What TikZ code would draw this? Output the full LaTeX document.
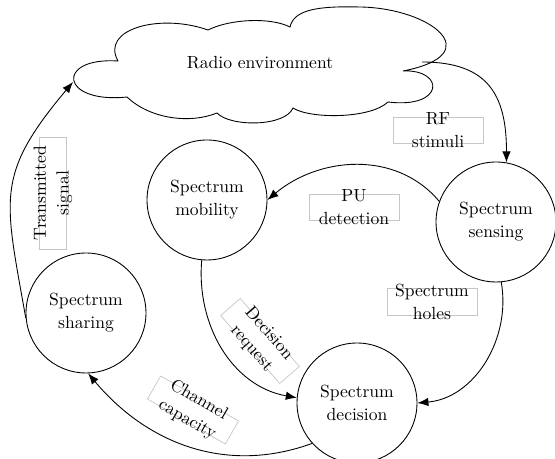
\documentclass[tikz,border=0pt]{standalone}
\usepackage{tikz}
\usetikzlibrary{arrows.meta}

\begin{document}
\begin{tikzpicture}[x=0.02cm,y=0.02cm,
  every node/.style={font=\fontsize{10}{13}\selectfont},
  stage/.style={circle,draw,line width=0.5pt,minimum size=2.4cm,align=center,inner sep=0pt},
  tag/.style={draw=gray!45,align=center,minimum width=1.8cm,inner xsep=2pt,inner ysep=-2.5pt},
  flow/.style={-{Latex[length=2.2mm,width=1.7mm]},line width=0.5pt}]
\useasboundingbox (0,0) rectangle (555,459);
% environment cloud, lobe by lobe
\draw[line width=0.5pt] (127,362) .. controls (60,355) and (55,402) .. (118,398)
  .. controls (100,430) and (160,446) .. (208,429)
  .. controls (230,440) and (270,442) .. (290,432)
  .. controls (294,450) and (320,453) .. (360,452)
  .. controls (430,451) and (490,405) .. (403,388)
  .. controls (445,390) and (445,350) .. (388,357)
  .. controls (370,340) and (310,340) .. (293,351)
  .. controls (285,332) and (230,332) .. (217,346)
  .. controls (190,335) and (150,340) .. cycle;
\node (env) at (260,396) {Radio environment};
\coordinate (envR) at (422,397);
\coordinate (envL) at (73,377);
% cycle stages
\node[stage] (mob) at (207,259) {Spectrum\\mobility};
\node[stage] (sense) at (496,237) {Spectrum\\sensing};
\node[stage] (dec) at (357,56) {Spectrum\\decision};
\node[stage] (share) at (86,146) {Spectrum\\sharing};
% edge labels
\node[tag] (rf) at (438,329) {RF\\stimuli};
\node[tag] (pu) at (354,252) {PU\\detection};
\node[tag] (holes) at (432,157) {Spectrum\\holes};
\node[tag,rotate=90,minimum width=2.24cm,inner ysep=-3.5pt] (tx) at (53,266) {Transmitted\\signal};
\node[tag,rotate=-49,inner ysep=-3.5pt] (req) at (260,118) {Decision\\request};
\node[tag,rotate=-30,inner ysep=-3.5pt] (cap) at (193,49) {Channel\\capacity};
% connectors
\draw[flow] (envR) to[out=0,in=90,looseness=1.3] (sense.80);
\draw[flow] (sense.160) to[out=130,in=40] (mob.east);
\draw[flow] (sense.-85) to[out=-80,in=5] (dec.east);
\draw[flow] (mob.-95) to[out=-95,in=170] (dec.175);
\draw[flow] (dec.222) to[out=200,in=-50] (share.-88);
\draw[flow] (share.185) to[out=100,in=230,looseness=1.3] (envL);
\end{tikzpicture}
\end{document}
